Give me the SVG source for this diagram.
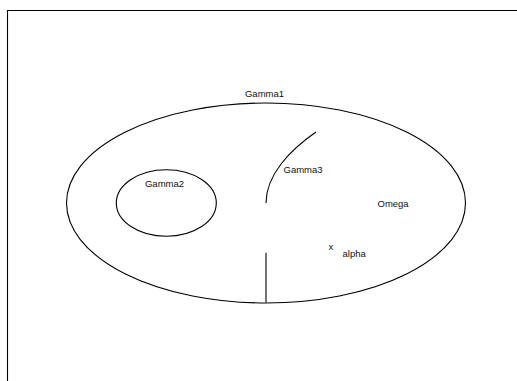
<svg xmlns="http://www.w3.org/2000/svg" width="517" height="381" viewBox="0 0 517 381">
<style>
.s{fill:none;stroke:#000;stroke-width:1.1}
.t{font-family:"Liberation Sans",Arial,sans-serif;font-size:9.5px;fill:#111}
</style>
<rect x="0" y="0" width="517" height="381" fill="#fff"/>
<path class="s" d="M7.5,381 V10.5 H517"/>
<g id="gamma1">
<ellipse class="s" cx="266" cy="203" rx="199.5" ry="100"/>
<text class="t" x="264.5" y="96.5" text-anchor="middle">Gamma1</text>
</g>
<g id="gamma2">
<ellipse class="s" cx="166.3" cy="203" rx="50" ry="33.3"/>
<text class="t" x="164.5" y="186.5" text-anchor="middle">Gamma2</text>
</g>
<g id="gamma3">
<path class="s" d="M266,203 C266,175 290,150 316,132"/>
<text class="t" x="283.5" y="172.5">Gamma3</text>
</g>
<g id="omega">
<text class="t" x="377.5" y="206.5">Omega</text>
</g>
<g id="alpha">
<text class="t" x="328.5" y="250">x</text>
<text class="t" x="342.5" y="256.5">alpha</text>
</g>
<g id="connectors">
<line class="s" x1="266" y1="252.7" x2="266" y2="302.5" stroke-width="1.4"/>
</g>
</svg>
